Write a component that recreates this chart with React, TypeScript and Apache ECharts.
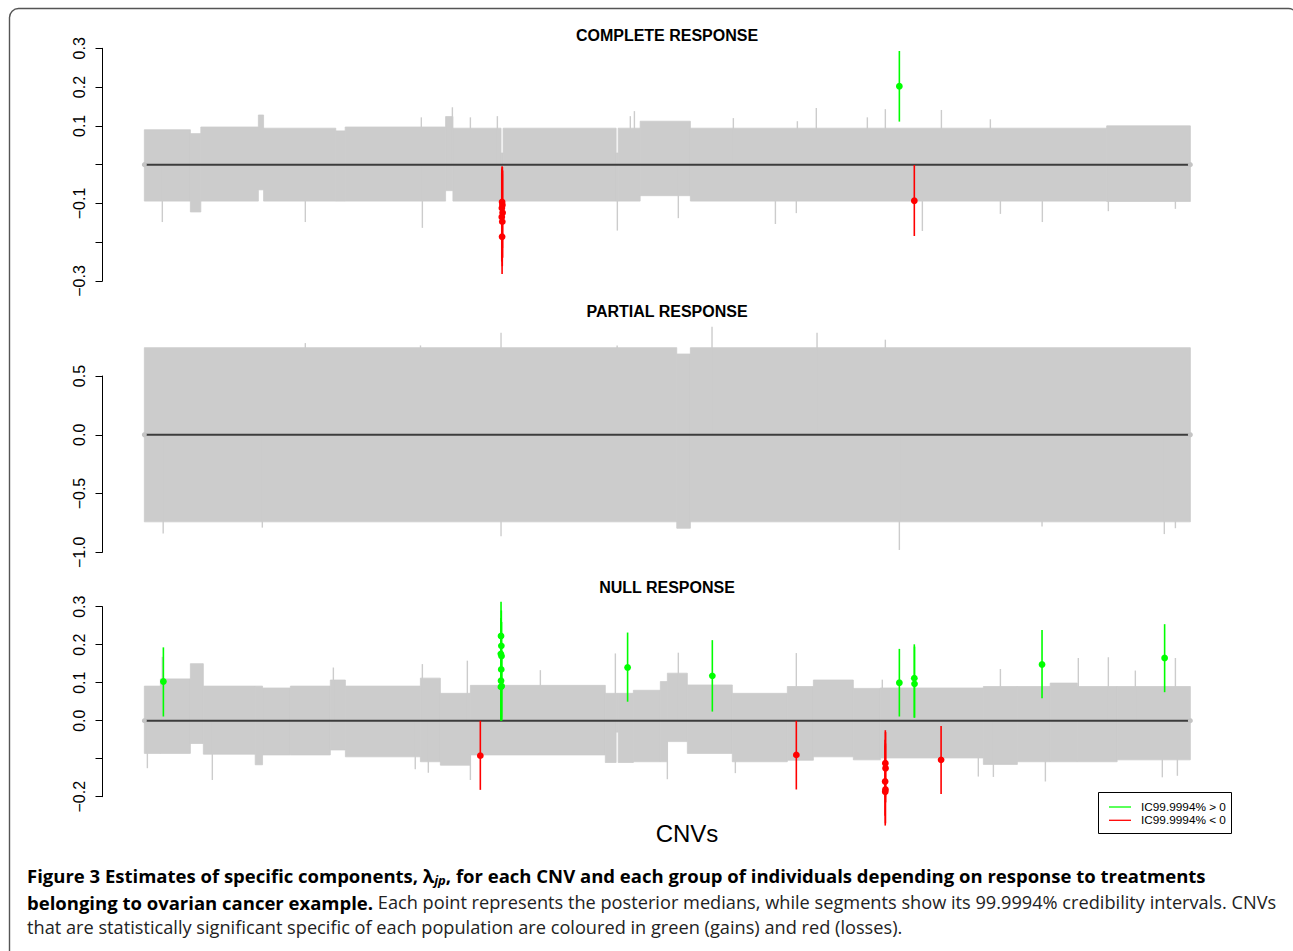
import React, { useEffect, useRef } from "react";
import * as echarts from "echarts";

// ---------- DATA ----------
// CNV positions are expressed on a 0..1000 index scale (first CNV .. last CNV)
const cnvRange = [0, 1000];

// Panel titles
const panelTitles = ["COMPLETE RESPONSE", "PARTIAL RESPONSE", "NULL RESPONSE"];

// Y ticks and labels (R leaves out labels that would overlap)
const completeTicks = [-0.3, -0.2, -0.1, 0, 0.1, 0.2, 0.3];
const completeTickLabels = ["−0.3", "", "−0.1", "", "0.1", "0.2", "0.3"];
const partialTicks = [-1.0, -0.5, 0.0, 0.5];
const partialTickLabels = ["−1.0", "−0.5", "0.0", "0.5"];
const nullTicks = [-0.2, -0.1, 0.0, 0.1, 0.2, 0.3];
const nullTickLabels = ["−0.2", "", "0.0", "0.1", "0.2", "0.3"];

// Grey credibility-interval envelope: [fromCNV, toCNV, upper, lower]
const completeBand = [
  [0, 44, 0.09, -0.094], [44, 54, 0.08, -0.122], [54, 109, 0.097, -0.094],
  [109, 114, 0.128, -0.065], [114, 183, 0.094, -0.094], [183, 192, 0.087, -0.094],
  [192, 288, 0.097, -0.094], [288, 295, 0.124, -0.067], [295, 341, 0.094, -0.094],
  [341, 343, 0.03, -0.094], [343, 451, 0.094, -0.094], [451, 453, 0.03, -0.094],
  [453, 474, 0.094, -0.094], [474, 522, 0.112, -0.08], [522, 920, 0.094, -0.094],
  [920, 1000, 0.1, -0.095],
];
const partialBand = [
  [0, 509, 0.741, -0.741], [509, 522, 0.687, -0.795], [522, 1000, 0.741, -0.741],
];
const nullBand = [
  [0, 15.3, 0.091, -0.086], [15.3, 44, 0.11, -0.086], [44, 56.4, 0.15, -0.06],
  [56.4, 106, 0.091, -0.088], [106, 113, 0.091, -0.116], [113, 139.6, 0.086, -0.09],
  [139.6, 177.8, 0.091, -0.09], [177.8, 192.2, 0.107, -0.077], [192.2, 263.9, 0.091, -0.095],
  [263.9, 283, 0.112, -0.108], [283, 311.7, 0.072, -0.117], [311.7, 440.7, 0.093, -0.09],
  [440.7, 451, 0.072, -0.11], [451, 453, 0.072, -0.03], [453, 467.5, 0.072, -0.11],
  [467.5, 493.3, 0.08, -0.108], [493.3, 500, 0.103, -0.108], [500, 519.1, 0.125, -0.055],
  [519.1, 562.1, 0.094, -0.086], [562.1, 614.7, 0.072, -0.108], [614.7, 639.6, 0.09, -0.104],
  [639.6, 677.8, 0.107, -0.095], [677.8, 703.6, 0.085, -0.103], [703.6, 802.1, 0.086, -0.098],
  [802.1, 834.6, 0.09, -0.115], [834.6, 866, 0.09, -0.108], [866, 892, 0.099, -0.108],
  [892, 930, 0.09, -0.108], [930, 1000, 0.09, -0.103],
];

// Isolated grey intervals sticking out of the envelope: [CNV, extreme]
const completeSpikes = [
  [264.8, 0.122], [294.5, 0.148], [311.7, 0.122], [337.5, 0.125], [464.6, 0.125],
  [468.5, 0.138], [563.1, 0.12], [624.3, 0.112], [642.4, 0.146], [691.2, 0.122],
  [708.4, 0.143], [762, 0.141], [808.8, 0.117],
  [17.2, -0.148], [153.9, -0.148], [265.8, -0.163], [452.2, -0.17], [510.5, -0.138],
  [603.3, -0.153], [623.3, -0.125], [743.8, -0.171], [818.4, -0.127], [858.5, -0.148],
  [921.6, -0.12], [985.7, -0.114],
];
const partialSpikes = [
  [153.9, 0.78], [264, 0.76], [341, 0.869], [452, 0.76], [542.7, 0.92], [643.1, 0.869],
  [708.4, 0.809],
  [18, -0.84], [112.8, -0.79], [341, -0.863], [721.8, -0.98], [858.2, -0.78],
  [975.1, -0.845], [985.7, -0.795],
];
const nullSpikes = [
  [17.2, 0.168], [180.7, 0.14], [265.8, 0.149], [308.8, 0.158], [378.6, 0.133],
  [450.3, 0.177], [510.5, 0.179], [623.3, 0.178], [705.5, 0.108], [818.4, 0.136],
  [892.9, 0.165], [921.6, 0.167], [947.4, 0.132], [985.7, 0.165],
  [2.9, -0.125], [65, -0.156], [259, -0.128], [271.5, -0.137], [311.7, -0.156],
  [500, -0.154], [565, -0.138], [797.3, -0.147], [811.7, -0.148], [861.4, -0.16],
  [973.2, -0.149], [987.6, -0.145],
];

// Significant CNVs: [CNV, posterior median, CI lower, CI upper]
const completeGains = [[721.8, 0.202, 0.111, 0.293]];
const completeLosses = [
  [342, -0.096, -0.004, -0.205], [342.3, -0.104, -0.006, -0.215],
  [341.8, -0.112, -0.01, -0.225], [342.5, -0.124, -0.015, -0.24],
  [341.7, -0.135, -0.02, -0.25], [342.2, -0.147, -0.025, -0.262],
  [342, -0.186, -0.04, -0.282], [736.1, -0.093, -0.001, -0.184],
];
const partialGains: number[][] = [];
const partialLosses: number[][] = [];
const nullGains = [
  [18.2, 0.103, 0.011, 0.193],
  [341, 0.223, 0.02, 0.313], [341.3, 0.197, 0.01, 0.29], [340.8, 0.176, 0.005, 0.27],
  [341.5, 0.17, 0.004, 0.26], [341.2, 0.135, 0.002, 0.23], [341, 0.105, 0.001, 0.2],
  [341.6, 0.091, 0.0, 0.185], [340.9, 0.089, 0.0, 0.18],
  [462, 0.14, 0.05, 0.232], [543, 0.118, 0.024, 0.212], [721.8, 0.1, 0.011, 0.189],
  [736.1, 0.112, 0.008, 0.201], [736.3, 0.097, 0.008, 0.195],
  [858.2, 0.148, 0.059, 0.239], [975.4, 0.165, 0.075, 0.254],
];
const nullLosses = [
  [321.2, -0.092, 0.0, -0.182], [623.3, -0.09, 0.0, -0.181],
  [708.4, -0.112, -0.025, -0.2], [708.6, -0.125, -0.03, -0.215],
  [708.2, -0.16, -0.05, -0.25], [708.5, -0.181, -0.06, -0.27],
  [708.3, -0.187, -0.065, -0.276], [761.7, -0.103, -0.014, -0.193],
];

const legendLabels = ["IC99.9994% > 0", "IC99.9994% < 0"];
const xAxisTitle = "CNVs";

// ---------- STYLE ----------
const GREY = "#cccccc";
const GREEN = "#00ff00";
const RED = "#ff0000";
const AXIS_FONT = "'Liberation Sans', Arial, Helvetica, sans-serif";
const CAP_FONT = "'Open Sans', 'Noto Sans', sans-serif";

const panels = [
  { ticks: completeTicks, labels: completeTickLabels, interval: 0.1, top: 48.3, height: 232.7,
    band: completeBand, spikes: completeSpikes, gains: completeGains, losses: completeLosses, titleY: 35 },
  { ticks: partialTicks, labels: partialTickLabels, interval: 0.5, top: 376, height: 176.3,
    band: partialBand, spikes: partialSpikes, gains: partialGains, losses: partialLosses, titleY: 311 },
  { ticks: nullTicks, labels: nullTickLabels, interval: 0.1, top: 606.7, height: 190,
    band: nullBand, spikes: nullSpikes, gains: nullGains, losses: nullLosses, titleY: 587 },
];

function buildOption() {
  const pad = (cnvRange[1] - cnvRange[0]) * 0.04;
  const grid: any[] = [];
  const xAxis: any[] = [];
  const yAxis: any[] = [];
  const series: any[] = [];
  const graphic: any[] = [];

  panels.forEach((p, i) => {
    grid.push({ left: 102.5, width: 1129.7, top: p.top, height: p.height });
    xAxis.push({ type: "value", gridIndex: i, min: cnvRange[0] - pad, max: cnvRange[1] + pad, show: false });
    yAxis.push({
      type: "value", gridIndex: i,
      min: p.ticks[0], max: p.ticks[p.ticks.length - 1], interval: p.interval,
      axisLine: { show: true, onZero: false, lineStyle: { color: "#000", width: 1 } },
      axisTick: { show: true, length: 7, lineStyle: { color: "#000", width: 1 } },
      splitLine: { show: false },
      axisLabel: {
        rotate: 90, margin: 15, fontSize: 16, color: "#000", fontFamily: AXIS_FONT,
        formatter: (v: number) => {
          const k = p.ticks.findIndex((t) => Math.abs(t - v) < 1e-6);
          return k >= 0 ? p.labels[k] : "";
        },
      },
    });

    series.push({
      type: "custom", xAxisIndex: i, yAxisIndex: i, data: p.band, clip: false, silent: true, z: 1,
      encode: { x: [0, 1], y: [2, 3] },
      renderItem: (_params: any, api: any) => {
        const a = api.coord([api.value(0), api.value(2)]);
        const b = api.coord([api.value(1), api.value(3)]);
        return { type: "rect", shape: { x: a[0], y: a[1], width: b[0] - a[0], height: b[1] - a[1] },
          style: { fill: GREY, stroke: GREY, lineWidth: 0.8 } };
      },
    });
    series.push({
      type: "custom", xAxisIndex: i, yAxisIndex: i, data: p.spikes, clip: false, silent: true, z: 2,
      encode: { x: 0, y: 1 },
      renderItem: (_params: any, api: any) => {
        const a = api.coord([api.value(0), 0]);
        const b = api.coord([api.value(0), api.value(1)]);
        return { type: "line", shape: { x1: a[0], y1: a[1], x2: b[0], y2: b[1] },
          style: { stroke: GREY, lineWidth: 1.4 } };
      },
    });
    series.push({
      type: "line", xAxisIndex: i, yAxisIndex: i, data: [[cnvRange[0], 0], [cnvRange[1], 0]],
      symbol: "circle", symbolSize: 5, showSymbol: true, silent: true, z: 3,
      itemStyle: { color: "#c4c4c4" }, lineStyle: { color: "#3c3c3c", width: 2 },
    });
    const sig = (data: number[][], color: string, name: string) => ({
      type: "custom", name, xAxisIndex: i, yAxisIndex: i, data, clip: false, silent: true, z: 4,
      encode: { x: 0, y: [1, 2, 3] },
      renderItem: (_params: any, api: any) => {
        const lo = api.coord([api.value(0), api.value(2)]);
        const hi = api.coord([api.value(0), api.value(3)]);
        const m = api.coord([api.value(0), api.value(1)]);
        return {
          type: "group",
          children: [
            { type: "line", shape: { x1: lo[0], y1: lo[1], x2: hi[0], y2: hi[1] }, style: { stroke: color, lineWidth: 1.6 } },
            { type: "circle", shape: { cx: m[0], cy: m[1], r: 3.4 }, style: { fill: color } },
          ],
        };
      },
    });
    series.push(sig(p.gains, GREEN, legendLabels[0]));
    series.push(sig(p.losses, RED, legendLabels[1]));

    graphic.push({
      type: "text", x: 667, y: p.titleY,
      style: { text: panelTitles[i], fontSize: 16, fontWeight: "bold", fontFamily: AXIS_FONT, fill: "#000",
        align: "center", verticalAlign: "middle" },
    });
  });

  // x axis title
  graphic.push({ type: "text", x: 687, y: 833,
    style: { text: xAxisTitle, fontSize: 24, fontFamily: AXIS_FONT, fill: "#000", align: "center", verticalAlign: "middle" } });

  // legend box
  graphic.push({ type: "rect", shape: { x: 1098.5, y: 792.5, width: 133, height: 41 },
    style: { fill: "#fff", stroke: "#000", lineWidth: 1 }, z: 10 });
  [GREEN, RED].forEach((c, k) => {
    const y = 807 + k * 13.3;
    graphic.push({ type: "line", shape: { x1: 1109, y1: y, x2: 1131, y2: y }, style: { stroke: c, lineWidth: 1.3 }, z: 11 });
    graphic.push({ type: "text", x: 1141, y, z: 11,
      style: { text: legendLabels[k], fontSize: 11.8, fontFamily: AXIS_FONT, fill: "#000", align: "left", verticalAlign: "middle" } });
  });

  // frame
  graphic.push({ type: "rect", shape: { x: 9.5, y: 8.5, width: 1288, height: 1000, r: 9 },
    style: { fill: "none", stroke: "#555", lineWidth: 1.4 }, z: 0 });

  // caption
  const rich = {
    b: { fontSize: 18.5, fontWeight: "bold", fontFamily: CAP_FONT, fill: "#000", lineHeight: 22 },
    s: { fontSize: 13, fontWeight: "bold", fontStyle: "italic", fontFamily: CAP_FONT, fill: "#000", verticalAlign: "bottom", lineHeight: 13 },
    r: { fontSize: 18.2, fontWeight: "normal", fontFamily: CAP_FONT, fill: "#222", lineHeight: 22 },
  };
  const capLines = [
    "{b|Figure 3 Estimates of specific components, λ}{s|jp}{b|, for each CNV and each group of individuals depending on response to treatments}",
    "{b|belonging to ovarian cancer example.}{r| Each point represents the posterior medians, while segments show its 99.9994% credibility intervals. CNVs}",
    "{r|that are statistically significant specific of each population are coloured in green (gains) and red (losses).}",
  ];
  [875, 902, 927].forEach((y, k) => {
    graphic.push({ type: "text", x: 27, y, style: { text: capLines[k], rich, align: "left", verticalAlign: "middle" } });
  });

  return { animation: false, grid, xAxis, yAxis, series, graphic };
}

export default function App() {
  const ref = useRef<HTMLDivElement>(null);
  useEffect(() => {
    const chart = echarts.init(ref.current!, null, { renderer: "svg" });
    chart.setOption(buildOption() as any);
    return () => chart.dispose();
  }, []);
  return <div ref={ref} style={{ position: "fixed", left: 0, top: 0, width: 1293, height: 951, background: "#fff" }} />;
}
